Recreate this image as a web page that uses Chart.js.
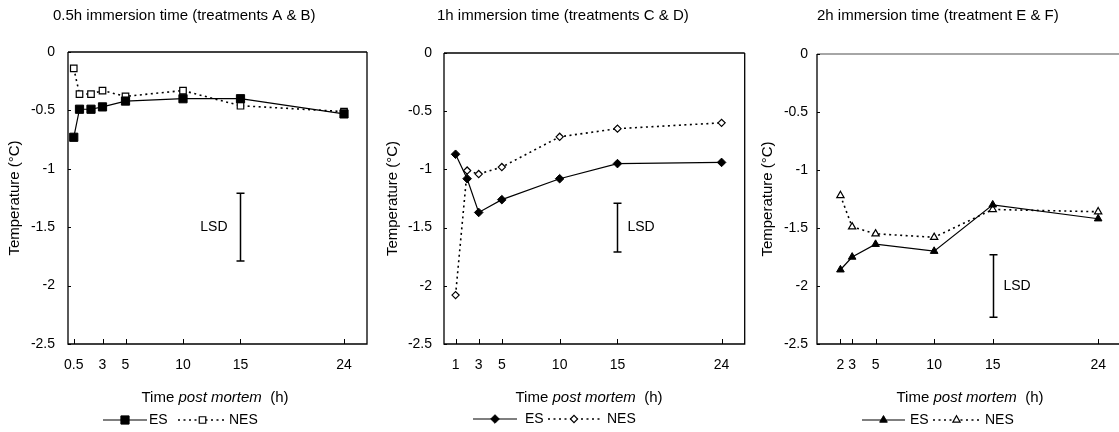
<!DOCTYPE html>
<html>
<head>
<meta charset="utf-8">
<script src="https://cdn.jsdelivr.net/npm/chart.js@4"></script>
<style>
html, body { margin: 0; padding: 0; background: #fff; overflow: hidden; width: 1119px; height: 432px; }
canvas { position: absolute; top: 0; }
</style>
</head>
<body>
<canvas id="chart1" width="375" height="432" style="left:0px"></canvas>
<canvas id="chart2" width="375" height="432" style="left:375px"></canvas>
<canvas id="chart3" width="380" height="432" style="left:750px"></canvas>
<script>
// Данные
const titles = [
    '0.5h immersion time (treatments A & B)',
    '1h immersion time (treatments C & D)',
    '2h immersion time (treatment E & F)'
];
const seriesNames = ['ES', 'NES'];

const hours1 = [0.5, 1, 2, 3, 5, 10, 15, 24];
const es1 = [-0.73, -0.49, -0.49, -0.47, -0.42, -0.40, -0.40, -0.53];
const nes1 = [-0.14, -0.36, -0.36, -0.33, -0.38, -0.33, -0.46, -0.51];
const xTicks1 = [0.5, 3, 5, 10, 15, 24];

const hours2 = [1, 2, 3, 5, 10, 15, 24];
const es2 = [-0.87, -1.08, -1.37, -1.26, -1.08, -0.95, -0.94];
const nes2 = [-2.08, -1.01, -1.04, -0.98, -0.72, -0.65, -0.60];
const xTicks2 = [1, 3, 5, 10, 15, 24];

const hours3 = [2, 3, 5, 10, 15, 24];
const es3 = [-1.86, -1.75, -1.64, -1.70, -1.30, -1.42];
const nes3 = [-1.22, -1.49, -1.55, -1.58, -1.34, -1.36];
const xTicks3 = [2, 3, 5, 10, 15, 24];

// LSD bars: x position, top and bottom value
const lsdAt = [15, 15, 15];
const lsdHigh = [-1.21, -1.29, -1.73];
const lsdLow = [-1.79, -1.71, -2.27];

const FONT = '"Liberation Sans", Arial, sans-serif';
const DASH = [2, 3.5];

// Оформление каждой панели
const panels = [
    { id: 'chart1', hours: hours1, es: es1, nes: nes1, ticks: xTicks1,
      marker: 'rect', rEs: 5.8, rNes: 4.6, rot: 0,
      top: 52, bottom: 344, yWidth: 68, padRight: 8, yPad: 13, titlePad: 6,
      titleX: 53, xTitleX: 215, lsdSide: 'left',
      legend: [103, 147, 149, 178, 227, 229], legendY: 420, topColor: '#000', right: true },
    { id: 'chart2', hours: hours2, es: es2, nes: nes2, ticks: xTicks2,
      marker: 'rectRot', rEs: 4.3, rNes: 3.6, rot: 0,
      top: 53, bottom: 344, yWidth: 69, padRight: 5, yPad: 12, titlePad: 9,
      titleX: 62, xTitleX: 214, lsdSide: 'right',
      legend: [98, 142, 150, 173, 225, 232], legendY: 419, topColor: '#000', right: true },
    { id: 'chart3', hours: hours3, es: es3, nes: nes3, ticks: xTicks3,
      marker: 'triangle', rEs: 4.4, rNes: 4.2, rot: 0,
      top: 54, bottom: 344, yWidth: 67, padRight: 8.4, yPad: 9, titlePad: 9,
      titleX: 67, xTitleX: 220, lsdSide: 'right',
      legend: [112, 155, 160, 183, 230, 235], legendY: 420, topColor: '#888', right: false }
];

function drawParts(ctx, parts, cx, y) {
    let total = 0;
    parts.forEach(p => { ctx.font = p.font; p.w = ctx.measureText(p.text).width; total += p.w; });
    let x = cx - total / 2;
    ctx.textAlign = 'left';
    parts.forEach(p => { ctx.font = p.font; ctx.fillText(p.text, x, y); x += p.w; });
}

const decor = {
    id: 'decor',
    beforeDatasetsDraw(chart, args, o) {
        const ctx = chart.ctx, a = chart.chartArea;
        const xs = chart.scales.x, ys = chart.scales.y;
        ctx.save();
        ctx.lineWidth = 1.3;
        ctx.strokeStyle = o.topColor;
        ctx.beginPath(); ctx.moveTo(a.left, a.top); ctx.lineTo(a.right, a.top); ctx.stroke();
        ctx.strokeStyle = '#000';
        ctx.beginPath(); ctx.moveTo(a.left, a.top); ctx.lineTo(a.left, a.bottom); ctx.lineTo(a.right, a.bottom);
        if (o.right) ctx.lineTo(a.right, a.top);
        ctx.stroke();
        // ticks inside
        ctx.lineWidth = 1;
        ctx.beginPath();
        xs.ticks.forEach(t => {
            const px = Math.round(xs.getPixelForValue(t.value)) + 0.5;
            ctx.moveTo(px, a.bottom); ctx.lineTo(px, a.bottom - 5);
        });
        ys.ticks.forEach(t => {
            const py = Math.round(ys.getPixelForValue(t.value)) + 0.5;
            ctx.moveTo(a.left, py); ctx.lineTo(a.left + 3, py);
        });
        ctx.stroke();
        // LSD bar
        const lx = Math.round(xs.getPixelForValue(o.lsdX)) + 0.5;
        const y1 = ys.getPixelForValue(o.lsdHigh), y2 = ys.getPixelForValue(o.lsdLow);
        ctx.lineWidth = 1.5;
        ctx.beginPath();
        ctx.moveTo(lx, y1); ctx.lineTo(lx, y2);
        ctx.moveTo(lx - 4, y1); ctx.lineTo(lx + 4, y1);
        ctx.moveTo(lx - 4, y2); ctx.lineTo(lx + 4, y2);
        ctx.stroke();
        ctx.fillStyle = '#000';
        ctx.font = '14px ' + FONT;
        ctx.textBaseline = 'middle';
        if (o.lsdSide === 'left') { ctx.textAlign = 'right'; ctx.fillText('LSD', lx - 13, (y1 + y2) / 2); }
        else { ctx.textAlign = 'left'; ctx.fillText('LSD', lx + 10, (y1 + y2) / 2); }
        ctx.restore();
    },
    afterDraw(chart, args, o) {
        const ctx = chart.ctx;
        ctx.save();
        ctx.fillStyle = '#000';
        ctx.textBaseline = 'middle';
        ctx.textAlign = 'left';
        ctx.font = '15px ' + FONT;
        ctx.fillText(o.title, o.titleX, 16);
        drawParts(ctx, [
            { text: 'Time ', font: '15px ' + FONT },
            { text: 'post mortem', font: 'italic 15px ' + FONT },
            { text: '  (h)', font: '15px ' + FONT }
        ], o.xTitleX, 398);
        // legend
        const L = o.legend, ly = o.legendY;
        const H = Chart.helpers;
        ctx.strokeStyle = '#000';
        ctx.lineWidth = 1.2;
        ctx.beginPath(); ctx.moveTo(L[0], ly); ctx.lineTo(L[1], ly); ctx.stroke();
        ctx.fillStyle = '#000'; ctx.lineWidth = 1;
        H.drawPoint(ctx, { pointStyle: o.marker, radius: o.rEs, rotation: 0, borderWidth: 1 }, (L[0] + L[1]) / 2, ly);
        ctx.lineWidth = 1.6;
        ctx.setLineDash(DASH);
        ctx.beginPath(); ctx.moveTo(L[3], ly); ctx.lineTo(L[4], ly); ctx.stroke();
        ctx.setLineDash([]);
        ctx.fillStyle = '#fff'; ctx.lineWidth = 1.2;
        H.drawPoint(ctx, { pointStyle: o.marker, radius: o.rNes, rotation: 0, borderWidth: 1.2 }, (L[3] + L[4]) / 2, ly);
        ctx.fillStyle = '#000';
        ctx.font = '14px ' + FONT;
        ctx.fillText(seriesNames[0], L[2], ly);
        ctx.fillText(seriesNames[1], L[5], ly);
        ctx.restore();
    }
};

panels.forEach((p, i) => {
    const ctx = document.getElementById(p.id).getContext('2d');
    new Chart(ctx, {
        type: 'line',
        data: {
            datasets: [{
                label: seriesNames[0],
                data: p.hours.map((h, k) => ({ x: h, y: p.es[k] })),
                borderColor: '#000',
                borderWidth: 1.2,
                pointStyle: p.marker,
                pointRadius: p.rEs,
                pointBackgroundColor: '#000',
                pointBorderColor: '#000',
                pointBorderWidth: 1,
                tension: 0
            }, {
                label: seriesNames[1],
                data: p.hours.map((h, k) => ({ x: h, y: p.nes[k] })),
                borderColor: '#000',
                borderWidth: 1.6,
                borderDash: DASH,
                pointStyle: p.marker,
                pointRadius: p.rNes,
                pointBackgroundColor: '#fff',
                pointBorderColor: '#000',
                pointBorderWidth: 1.2,
                tension: 0
            }]
        },
        options: {
            responsive: false,
            animation: false,
            layout: { padding: { top: p.top, right: p.padRight, bottom: 0, left: 0 } },
            scales: {
                x: {
                    type: 'linear', min: 0, max: 26,
                    grid: { display: false, drawTicks: false },
                    border: { display: false },
                    afterBuildTicks: s => { s.ticks = p.ticks.map(v => ({ value: v })); },
                    afterFit: s => { s.height = 432 - p.bottom; },
                    ticks: { padding: 13, color: '#000', font: { size: 14, family: FONT }, maxRotation: 0, autoSkip: false,
                             callback: v => String(v) }
                },
                y: {
                    min: -2.5, max: 0,
                    grid: { display: false, drawTicks: false },
                    border: { display: false },
                    afterFit: s => { s.width = p.yWidth; },
                    ticks: { stepSize: 0.5, padding: p.yPad, color: '#000', font: { size: 14, family: FONT },
                             callback: v => String(v) },
                    title: { display: true, text: 'Temperature (°C)', color: '#000',
                             font: { size: 15, family: FONT }, padding: { top: p.titlePad, bottom: 0 } }
                }
            },
            plugins: {
                legend: { display: false },
                tooltip: { enabled: false },
                decor: {
                    title: titles[i], titleX: p.titleX, xTitleX: p.xTitleX,
                    lsdX: lsdAt[i], lsdHigh: lsdHigh[i], lsdLow: lsdLow[i], lsdSide: p.lsdSide,
                    legend: p.legend, legendY: p.legendY, marker: p.marker, rEs: p.rEs, rNes: p.rNes,
                    topColor: p.topColor, right: p.right
                }
            }
        },
        plugins: [decor]
    });
});
</script>
</body>
</html>
